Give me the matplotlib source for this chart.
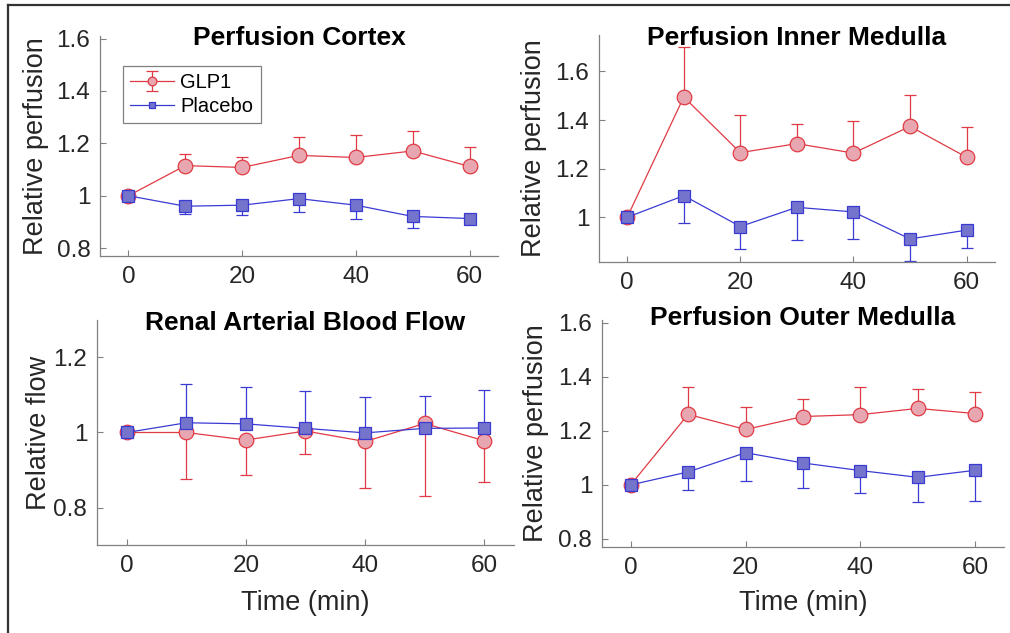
import matplotlib
matplotlib.use("Agg")
import matplotlib.pyplot as plt
from matplotlib.lines import Line2D
from matplotlib.ticker import FuncFormatter

plt.rcParams["font.family"] = ["Liberation Sans", "DejaVu Sans"]

time = [0, 10, 20, 30, 40, 50, 60]

# Perfusion Cortex
cortex_glp1 = [1.0, 1.115, 1.108, 1.154, 1.146, 1.171, 1.112]
cortex_glp1_err = [0.0, 0.045, 0.04, 0.069, 0.084, 0.077, 0.074]
cortex_plac = [1.0, 0.960, 0.964, 0.989, 0.964, 0.921, 0.913]
cortex_plac_err = [0.0, 0.03, 0.038, 0.051, 0.054, 0.045, 0.019]

# Perfusion Inner Medulla
inner_glp1 = [1.0, 1.495, 1.266, 1.303, 1.264, 1.374, 1.247]
inner_glp1_err = [0.0, 0.205, 0.153, 0.082, 0.132, 0.131, 0.123]
inner_plac = [1.0, 1.089, 0.962, 1.041, 1.022, 0.911, 0.947]
inner_plac_err = [0.0, 0.112, 0.091, 0.136, 0.11, 0.092, 0.072]

# Renal Arterial Blood Flow
rbf_glp1 = [1.0, 1.0, 0.98, 1.004, 0.976, 1.024, 0.978]
rbf_glp1_err = [0.0, 0.125, 0.092, 0.06, 0.123, 0.192, 0.11]
rbf_plac = [1.0, 1.026, 1.023, 1.011, 0.999, 1.011, 1.012]
rbf_plac_err = [0.0, 0.103, 0.099, 0.099, 0.096, 0.087, 0.1]

# Perfusion Outer Medulla
outer_glp1 = [1.0, 1.261, 1.205, 1.253, 1.26, 1.283, 1.264]
outer_glp1_err = [0.0, 0.101, 0.083, 0.064, 0.103, 0.073, 0.078]
outer_plac = [1.0, 1.048, 1.119, 1.081, 1.053, 1.028, 1.054]
outer_plac_err = [0.0, 0.066, 0.104, 0.092, 0.084, 0.091, 0.112]

zeros = [0.0] * len(time)

RED = "#e03a44"
RED_FACE = "#e8a7b0"
BLUE = "#3b3bd4"
BLUE_FACE = "#7474cc"
SPINE = "#808080"
TEXT = "#262626"


def panel(ax, title, glp1, glp1_err, plac, plac_err, glp1_up, ylim, yticks,
          ylabel, title_y, ylab_x, xlabel=None, xlab_y=None):
    g_err = [zeros, glp1_err] if glp1_up else [glp1_err, zeros]
    p_err = [plac_err, zeros] if glp1_up else [zeros, plac_err]
    g = ax.errorbar(time, glp1, yerr=g_err, color=RED, lw=0.9, elinewidth=0.9,
                    capsize=4, capthick=0.9, marker="o", ms=10.5,
                    mfc=RED_FACE, mec=RED, mew=0.9, label="GLP1")
    p = ax.errorbar(time, plac, yerr=p_err, color=BLUE, lw=0.9, elinewidth=0.9,
                    capsize=4, capthick=0.9, marker="s", ms=8,
                    mfc=BLUE_FACE, mec=BLUE, mew=0.9, label="Placebo")
    ax.set_xlim(-5, 65)
    ax.set_ylim(*ylim)
    ax.set_xticks([0, 20, 40, 60])
    ax.set_yticks(yticks)
    ax.yaxis.set_major_formatter(FuncFormatter(lambda v, pos: "%g" % round(v, 2)))
    for side in ["top", "right"]:
        ax.spines[side].set_visible(False)
    for side in ["left", "bottom"]:
        ax.spines[side].set_color(SPINE)
        ax.spines[side].set_linewidth(0.9)
    ax.tick_params(direction="in", length=4, width=0.8, color=SPINE,
                   labelcolor=TEXT, labelsize=17.5, pad=7)
    ax.text(0.5, title_y, title, transform=ax.transAxes, ha="center",
            va="baseline", fontsize=19, fontweight="bold", color="black")
    ax.set_ylabel(ylabel, fontsize=19.5, color=TEXT)
    ax.yaxis.set_label_coords(ylab_x, 0.5)
    if xlabel:
        ax.set_xlabel(xlabel, fontsize=19.5, color=TEXT)
        ax.xaxis.set_label_coords(0.5, xlab_y)
    return g, p


fig = plt.figure(figsize=(10.1, 6.33), dpi=100)

ax1 = fig.add_axes([0.099, 0.5956, 0.394, 0.3476])
ax2 = fig.add_axes([0.593, 0.5861, 0.392, 0.3586])
ax3 = fig.add_axes([0.096, 0.139, 0.4129, 0.3555])
ax4 = fig.add_axes([0.596, 0.1358, 0.398, 0.3586])

g, p = panel(ax1, "Perfusion Cortex", cortex_glp1, cortex_glp1_err,
             cortex_plac, cortex_plac_err, True, (0.77, 1.61),
             [0.8, 1.0, 1.2, 1.4, 1.6], "Relative perfusion", 0.96, -0.128)
panel(ax2, "Perfusion Inner Medulla", inner_glp1, inner_glp1_err,
      inner_plac, inner_plac_err, True, (0.816, 1.75),
      [1.0, 1.2, 1.4, 1.6], "Relative perfusion", 0.956, -0.131)
panel(ax3, "Renal Arterial Blood Flow", rbf_glp1, rbf_glp1_err,
      rbf_plac, rbf_plac_err, False, (0.7, 1.3),
      [0.8, 1.0, 1.2], "Relative flow", 0.956, -0.108, "Time (min)", -0.2)
panel(ax4, "Perfusion Outer Medulla", outer_glp1, outer_glp1_err,
      outer_plac, outer_plac_err, True, (0.77, 1.61),
      [0.8, 1.0, 1.2, 1.4, 1.6], "Relative perfusion", 0.978, -0.132,
      "Time (min)", -0.19)

leg = ax1.legend([g, p[0]], ["GLP1", "Placebo"], loc="upper left",
                 bbox_to_anchor=(0.058, 0.865), fontsize=14.5, markerscale=0.6,
                 fancybox=False, framealpha=1, edgecolor="#808080",
                 handlelength=2.2, handletextpad=0.3, borderpad=0.35,
                 labelspacing=0.25, borderaxespad=0)
leg.get_frame().set_linewidth(0.9)

# outer frame lines
fig.add_artist(Line2D([0.0084, 0.0084], [0.0, 0.992], transform=fig.transFigure,
                      color="#333333", lw=1.6))
fig.add_artist(Line2D([0.0084, 1.0], [0.992, 0.992], transform=fig.transFigure,
                      color="#333333", lw=1.6))

fig.savefig("out.png", dpi=100)
